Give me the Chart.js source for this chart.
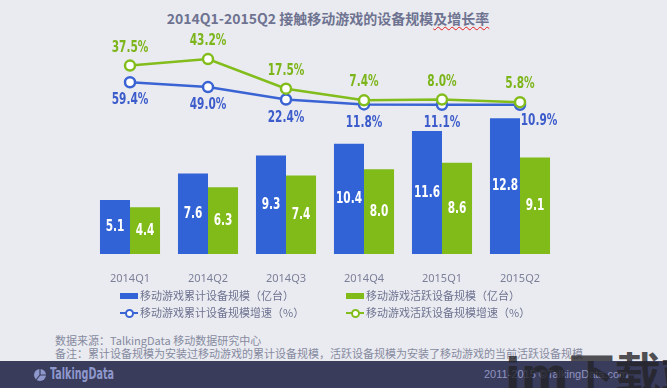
<!DOCTYPE html>
<html>
<head>
<meta charset="utf-8">
<script src="https://cdn.jsdelivr.net/npm/chart.js@4.4.0/dist/chart.umd.min.js"></script>
<style>
  html, body { margin: 0; padding: 0; }
  body {
    width: 667px; height: 388px; position: relative; overflow: hidden;
    background: #eaebf0;
    font-family: "Noto Sans CJK SC", "Noto Sans", sans-serif;
  }
  #chartBox { position: absolute; left: 0; top: 0; width: 667px; height: 290px; }
  .title {
    position: absolute; left: 0; width: 656px; top: 8px; text-align: center;
    font-size: 14px; font-weight: bold; color: #6e7391;
  }
  .squiggle { text-decoration: underline wavy #e02020; text-decoration-thickness: 1px; text-underline-offset: 2px; }
  .legend { position: absolute; font-size: 11px; color: #6e7391; line-height: 14px; }
  .legend .rect { display: inline-block; width: 18px; height: 6px; vertical-align: middle; margin-right: 2px; margin-top: -2px; }
  .legend .ln { display: inline-block; position: relative; width: 18px; height: 10px; vertical-align: middle; margin-right: 2px; margin-top: -2px; }
  .legend .ln i { position: absolute; left: 0; right: 0; top: 4px; height: 2px; }
  .legend .ln b { position: absolute; left: 5px; top: 1px; width: 5px; height: 5px; border-radius: 50%; background: #fff; border: 2px solid; }
  .notes { position: absolute; left: 55px; top: 334px; font-size: 11px; line-height: 13px; color: #868aa0; }
  .footer { position: absolute; left: 0; top: 361px; width: 667px; height: 27px; background: #3a3c5c; }
  .logo { position: absolute; left: 50px; top: 3px; font-family: "DejaVu Sans", sans-serif; font-weight: bold; font-size: 16px; color: #8e98cc; transform: scaleX(0.6); transform-origin: left center; }
  .copy { position: absolute; left: 484px; top: 7px; font-family: "Liberation Sans", Arial, sans-serif; font-size: 11px; color: #8e94c0; }
  .mark { position: absolute; left: 505px; top: 338px; font-family: "DejaVu Sans", "Noto Sans CJK SC", sans-serif; font-weight: bold; font-size: 46px; color: rgba(35,35,40,0.78); white-space: nowrap; }
</style>
</head>
<body>
<div class="title">2014Q1-2015Q2 接触移动游戏的设备规模<span class="squiggle">及增长率</span></div>
<div id="chartBox"><canvas id="chart" width="667" height="290"></canvas></div>

<div class="legend" style="left:120px; top:288px;"><span class="rect" style="background:#3163d6"></span>移动游戏累计设备规模（亿台）</div>
<div class="legend" style="left:346px; top:288px;"><span class="rect" style="background:#80bb19"></span>移动游戏活跃设备规模（亿台）</div>
<div class="legend" style="left:120px; top:305px;"><span class="ln"><i style="background:#3a63d4"></i><b style="border-color:#3a63d4"></b></span>移动游戏累计设备规模增速（%）</div>
<div class="legend" style="left:346px; top:305px;"><span class="ln"><i style="background:#82bd1c"></i><b style="border-color:#82bd1c"></b></span>移动游戏活跃设备规模增速（%）</div>

<div class="notes">数据来源：TalkingData 移动数据研究中心<br>备注：累计设备规模为安装过移动游戏的累计设备规模，活跃设备规模为安装了移动游戏的当前活跃设备规模</div>

<div class="footer">
  <svg style="position:absolute; left:33px; top:7px;" width="14" height="14" viewBox="0 0 14 14">
    <circle cx="7" cy="7" r="6" fill="#8e98cc"/>
    <path d="M7 7 L7 1 M7 7 L13 7 M7 7 L3 12" stroke="#3a3c5c" stroke-width="1.2"/>
  </svg>
  <div class="logo">TalkingData</div>
  <div class="copy">2011-2015 ©TalkingData.com</div>
</div>
<div class="mark">im下载站</div>

<script>
const quarters = ['2014Q1', '2014Q2', '2014Q3', '2014Q4', '2015Q1', '2015Q2'];
const totalDevices = [5.1, 7.6, 9.3, 10.4, 11.6, 12.8];   // 亿台
const activeDevices = [4.4, 6.3, 7.4, 8.0, 8.6, 9.1];    // 亿台
const totalGrowth = [59.4, 49.0, 22.4, 11.8, 11.1, 10.9]; // %
const activeGrowth = [37.5, 43.2, 17.5, 7.4, 8.0, 5.8];   // %

const BLUE = '#3163d6';
const GREEN = '#80bb19';
const BLUE_LINE = '#3a63d4';
const GREEN_LINE = '#82bd1c';
const BLUE_TEXT = '#3d5ccb';
const GREEN_TEXT = '#7cb51a';
const LABEL_FONT = 'bold 16px "DejaVu Sans", sans-serif';

// squeezed text, the original uses a narrow Impact-like face
function narrowText(ctx, text, x, y) {
    ctx.save();
    ctx.translate(x, y);
    ctx.scale(0.66, 1);
    ctx.fillText(text, 0, 0);
    ctx.restore();
}

// draws the value labels on bars and next to line points
const valueLabels = {
    id: 'valueLabels',
    afterDatasetsDraw(chart) {
        const ctx = chart.ctx;
        ctx.save();
        ctx.font = LABEL_FONT;
        ctx.textAlign = 'center';
        ctx.textBaseline = 'middle';
        chart.data.datasets.forEach((ds, i) => {
            const meta = chart.getDatasetMeta(i);
            meta.data.forEach((el, j) => {
                const v = ds.data[j];
                if (ds.type === 'bar') {
                    ctx.fillStyle = '#ffffff';
                    narrowText(ctx, v.toFixed(1), el.x, (el.y + el.base) / 2);
                } else if (ds.yAxisID === 'y1') {
                    ctx.fillStyle = BLUE_TEXT;
                    if (j === ds.data.length - 1) {
                        narrowText(ctx, v.toFixed(1) + '%', el.x + 19, el.y + 16);
                    } else {
                        narrowText(ctx, v.toFixed(1) + '%', el.x, el.y + 18);
                    }
                } else {
                    ctx.fillStyle = GREEN_TEXT;
                    narrowText(ctx, v.toFixed(1) + '%', el.x, el.y - 18);
                }
            });
        });
        ctx.restore();
    }
};

const ctx = document.getElementById('chart').getContext('2d');
new Chart(ctx, {
    data: {
        labels: quarters,
        datasets: [
            {
                type: 'line',
                label: '移动游戏活跃设备规模增速（%）',
                data: activeGrowth,
                yAxisID: 'y2',
                order: 0,
                borderColor: GREEN_LINE,
                borderWidth: 2.5,
                tension: 0,
                pointRadius: 5,
                pointBorderWidth: 2.5,
                pointBackgroundColor: '#ffffff',
                pointBorderColor: GREEN_LINE
            },
            {
                type: 'line',
                label: '移动游戏累计设备规模增速（%）',
                data: totalGrowth,
                yAxisID: 'y1',
                order: 1,
                borderColor: BLUE_LINE,
                borderWidth: 2.5,
                tension: 0,
                pointRadius: 5,
                pointBorderWidth: 2.5,
                pointBackgroundColor: '#ffffff',
                pointBorderColor: BLUE_LINE
            },
            {
                type: 'bar',
                label: '移动游戏累计设备规模（亿台）',
                data: totalDevices,
                yAxisID: 'y',
                order: 2,
                backgroundColor: BLUE,
                barPercentage: 1,
                categoryPercentage: 0.77
            },
            {
                type: 'bar',
                label: '移动游戏活跃设备规模（亿台）',
                data: activeDevices,
                yAxisID: 'y',
                order: 2,
                backgroundColor: GREEN,
                barPercentage: 1,
                categoryPercentage: 0.77
            }
        ]
    },
    options: {
        responsive: false,
        animation: false,
        layout: { padding: { left: 91, right: 108, top: 42, bottom: 0 } },
        plugins: {
            legend: { display: false },
            tooltip: { enabled: false }
        },
        scales: {
            x: {
                grid: { display: false },
                border: { display: false },
                ticks: {
                    color: '#7c8099',
                    padding: 10,
                    font: { family: '"Noto Sans", sans-serif', size: 11 }
                },
                afterFit(scale) { scale.height = 36; }
            },
            y: { display: false, min: 0, max: 20 },
            y1: { display: false, min: -310, max: 146 },
            y2: { display: false, min: -126, max: 58 }
        }
    },
    plugins: [valueLabels]
});
</script>
</body>
</html>
